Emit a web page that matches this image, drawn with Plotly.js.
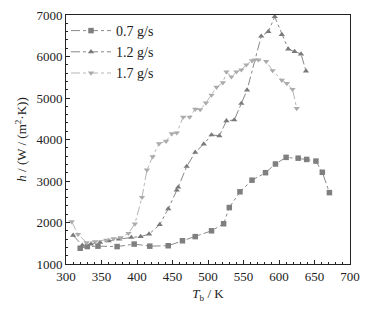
<!DOCTYPE html>
<html><head><meta charset="utf-8">
<script src="https://cdn.plot.ly/plotly-3.0.1.min.js"></script>
<style>body{margin:0;background:#fff}#c{width:369px;height:314px}</style>
</head><body><div id="c"></div>
<script>
const names = ["0.7 g/s", "1.2 g/s", "1.7 g/s"];
const x07 = [320,330,345,372,396,418,444,464,482,505,522,530,545,562,581,595,610,627,639,652,661,671];
const y07 = [1380,1420,1430,1420,1480,1430,1440,1560,1660,1800,1970,2360,2740,3020,3200,3410,3570,3550,3520,3480,3210,2720];
const x12 = [310,323,335,348,360,375,392,405,417,432,444,456,458,470,482,494,505,516,526,537,547,555,575,585,594,604,613,622,631,638];
const y12 = [1690,1450,1480,1520,1560,1600,1640,1660,1720,1950,2330,2780,2850,3350,3690,3890,4110,4090,4450,4470,4870,5190,6490,6600,6960,6530,6180,6120,6060,5650];
const x17 = [308,317,329,341,357,367,377,388,397,407,414,422,431,441,449,456,465,474,482,489,497,505,512,521,526,533,540,547,554,562,566,571,582,591,604,611,619,625];
const y17 = [2020,1715,1513,1538,1578,1610,1634,1739,1964,2607,3265,3586,3900,3960,4140,4160,4540,4540,4730,4720,4880,5070,5260,5370,5630,5510,5630,5680,5800,5900,5920,5920,5880,5660,5430,5350,5210,4750];

const mk = (x,y,name,sym,col,lc) => ({x, y, name, type:'scatter', mode:'lines+markers',
  line:{color:lc, width:1, dash:'dashdot'}, marker:{symbol:sym, size:5.5, color:col}});
const data = [
  mk(x07,y07,names[0],'square','#7f7f7f','#8a8a8a'),
  mk(x12,y12,names[1],'triangle-up','#7a7a7a','#888888'),
  mk(x17,y17,names[2],'triangle-down','#ababab','#b5b5b5')
];
const axf = {family:'"Liberation Serif", "DejaVu Serif", serif', size:13, color:'#222'};
const layout = {
  width:369, height:314, margin:{l:66, r:19, t:15, b:50},
  paper_bgcolor:'#fff', plot_bgcolor:'#fff', font:axf,
  showlegend:true,
  legend:{x:0.0, y:1.0, xanchor:'left', yanchor:'top', bgcolor:'rgba(0,0,0,0)',
    font:{family:axf.family, size:14, color:'#222'}, tracegroupgap:0, itemwidth:40},
  xaxis:{range:[300,700], dtick:50, tick0:300, ticks:'inside', ticklen:4, tickcolor:'#222',
    showline:true, linecolor:'#222', linewidth:1, mirror:true, showgrid:false, zeroline:false,
    minor:{dtick:10, ticks:'inside', ticklen:2, tickcolor:'#222', showgrid:false},
    tickfont:axf,
    title:{text:'<i>T</i><sub>b</sub> / K', font:{family:axf.family, size:13, color:'#222'}, standoff:6}},
  yaxis:{range:[1000,7000], dtick:1000, ticks:'inside', ticklen:4, tickcolor:'#222',
    showline:true, linecolor:'#222', linewidth:1, mirror:true, showgrid:false, zeroline:false,
    minor:{dtick:200, ticks:'inside', ticklen:2, tickcolor:'#222', showgrid:false},
    tickfont:axf,
    title:{text:'<i>h</i> / (W / (m<sup>2</sup>·K))', font:{family:axf.family, size:13, color:'#222'}, standoff:6}}
};
Plotly.newPlot('c', data, layout, {displayModeBar:false, staticPlot:true});
</script></body></html>
